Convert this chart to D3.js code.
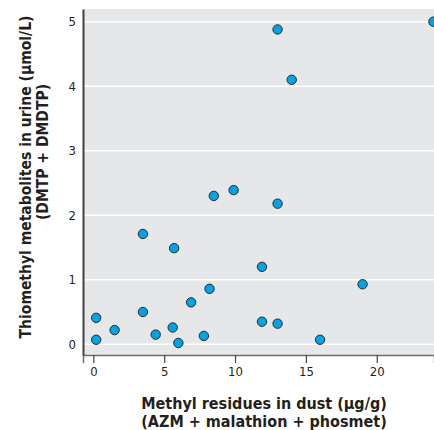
<!DOCTYPE html>
<html>
<head>
<meta charset="utf-8">
<script src="https://cdn.jsdelivr.net/npm/d3@7"></script>
<style>
  body { margin: 0; background: #fff; }
  text { font-family: "Liberation Sans Narrow", "DejaVu Sans Condensed", "Liberation Sans", sans-serif; }
</style>
</head>
<body>
<div id="chart"></div>
<script>
// data
const dustResidues = [8.5, 9.9, 13.0, 3.5, 5.7, 11.9, 19.0, 8.2, 6.9, 0.2, 3.5, 1.5, 4.4, 5.6, 11.9, 13.0, 0.2, 6.0, 7.8, 16.0, 13.0, 14.0, 24.0];
const urineMetabolites = [2.30, 2.39, 2.18, 1.71, 1.49, 1.20, 0.93, 0.86, 0.65, 0.41, 0.50, 0.22, 0.15, 0.26, 0.35, 0.32, 0.07, 0.02, 0.13, 0.07, 4.88, 4.10, 5.00];
const xTicks = [0, 5, 10, 15, 20];
const yTicks = [0, 1, 2, 3, 4, 5];

const points = dustResidues.map((d, i) => ({ x: d, y: urineMetabolites[i] }));

const width = 434;
const height = 430;
const margin = { top: 9, right: 0, bottom: 75, left: 83 };

const svg = d3
  .select('#chart')
  .append('svg')
  .attr('width', width)
  .attr('height', height);

const x = d3
  .scaleLinear()
  .domain([-0.73, 24.04])
  .range([margin.left, width - margin.right]);

const y = d3
  .scaleLinear()
  .domain([-0.166, 5.197])
  .range([height - margin.bottom, margin.top]);

// plot background
svg
  .append('rect')
  .attr('x', margin.left)
  .attr('y', margin.top)
  .attr('width', width - margin.left - margin.right)
  .attr('height', height - margin.top - margin.bottom)
  .style('fill', '#e6e7e8');

// gridlines
svg
  .append('g')
  .selectAll('line')
  .data(yTicks)
  .enter()
  .append('line')
  .attr('x1', margin.left)
  .attr('x2', width - margin.right)
  .attr('y1', (d) => y(d))
  .attr('y2', (d) => y(d))
  .style('stroke', '#fff')
  .style('stroke-width', 1.5);

// X axis
const xAxis = svg
  .append('g')
  .attr('transform', `translate(0,${height - margin.bottom})`)
  .call(d3.axisBottom(x).tickValues(xTicks).tickSize(8).tickPadding(4).tickFormat(d3.format('d')));
xAxis.select('.domain').style('stroke', '#6d6e70').style('stroke-width', 1.5);
xAxis.selectAll('.tick line').style('stroke', '#444').style('stroke-width', 1.2);
xAxis.selectAll('text').style('font-size', '13px').style('fill', '#231f20');

// Y axis
const yAxis = svg
  .append('g')
  .attr('transform', `translate(${margin.left},0)`)
  .call(d3.axisLeft(y).tickValues(yTicks).tickSize(0).tickPadding(7).tickFormat(d3.format('d')));
yAxis.select('.domain').style('stroke', '#414042').style('stroke-width', 2);
yAxis.selectAll('text').style('font-size', '13px').style('fill', '#231f20');

// points
svg
  .append('g')
  .selectAll('circle')
  .data(points)
  .enter()
  .append('circle')
  .attr('cx', (d) => x(d.x))
  .attr('cy', (d) => y(d.y))
  .attr('r', 4.7)
  .style('fill', '#00a3e4')
  .style('stroke', '#2b2b2b')
  .style('stroke-width', 1);

// x label
const xLabel = svg
  .append('text')
  .attr('text-anchor', 'middle')
  .style('font-size', '16px')
  .style('font-weight', 'bold')
  .style('fill', '#231f20');
xLabel.append('tspan').attr('x', 264).attr('y', 409).text('Methyl residues in dust (\u00b5g/g)');
xLabel.append('tspan').attr('x', 264).attr('y', 427).text('(AZM + malathion + phosmet)');

// y label
svg
  .append('text')
  .attr('transform', 'translate(31,177) rotate(-90)')
  .attr('text-anchor', 'middle')
  .style('font-size', '15.5px')
  .style('font-weight', 'bold')
  .style('fill', '#231f20')
  .text('Thiomethyl metabolites in urine (\u00b5mol/L)');

svg
  .append('text')
  .attr('transform', 'translate(48,152) rotate(-90)')
  .attr('text-anchor', 'middle')
  .style('font-size', '15.5px')
  .style('font-weight', 'bold')
  .style('fill', '#231f20')
  .text('(DMTP + DMDTP)');
</script>
</body>
</html>
